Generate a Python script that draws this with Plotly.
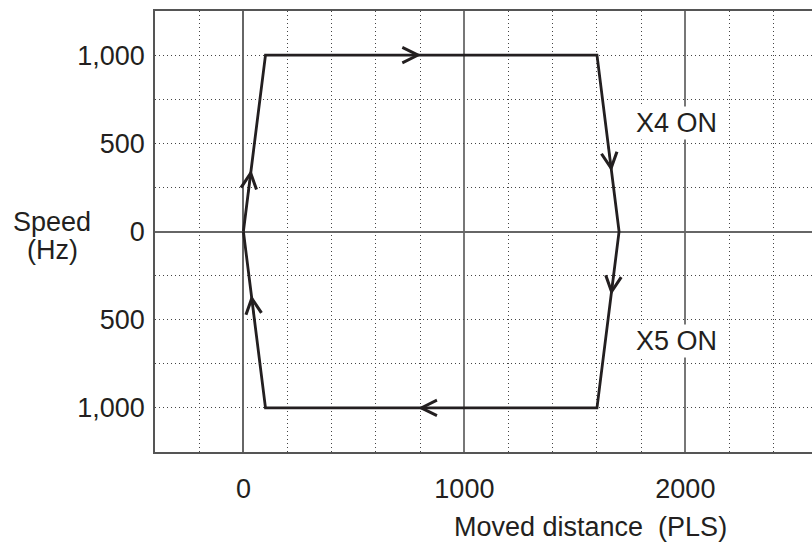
import plotly.graph_objects as go

# Path of the speed profile (moved distance in PLS, speed in Hz)
path_x = [0, 100, 1600, 1700, 1600, 100, 0]
path_y = [0, 1000, 1000, 0, -1000, -1000, 0]

# Arrow markers: (segment index, fraction along segment where the arrow tip sits)
arrow_segments = [0, 1, 2, 3, 4, 5]
arrow_fracs = [0.35, 0.47, 0.66, 0.36, 0.54, 0.64]

# Axis ticks
x_tickvals = [0, 1000, 2000]
x_ticktext = ["0", "1000", "2000"]
y_tickvals = [1000, 500, 0, -500, -1000]
y_ticktext = ["1,000", "500", "0", "500", "1,000"]

# Labels inside the plot
label_text = ["X4 ON", "X5 ON"]
label_x = [1960, 1960]
label_y = [615, -620]

FONT = "Liberation Sans"
INK = "#231f20"
FS = 27

fig = go.Figure()
fig.add_trace(go.Scatter(
    x=path_x, y=path_y, mode="lines",
    line=dict(color=INK, width=2.8),
    hoverinfo="skip", showlegend=False,
))

for seg, f in zip(arrow_segments, arrow_fracs):
    x0, y0 = path_x[seg], path_y[seg]
    x1, y1 = path_x[seg + 1], path_y[seg + 1]
    hx, hy = x0 + (x1 - x0) * f, y0 + (y1 - y0) * f
    tf = f - 0.15
    tx, ty = x0 + (x1 - x0) * tf, y0 + (y1 - y0) * tf
    fig.add_annotation(
        x=hx, y=hy, ax=tx, ay=ty, xref="x", yref="y", axref="x", ayref="y",
        text="", showarrow=True, arrowhead=5, arrowsize=1.8, arrowwidth=1.7,
        arrowcolor=INK, standoff=0, startstandoff=0,
    )

for t, lx, ly in zip(label_text, label_x, label_y):
    fig.add_annotation(
        x=lx, y=ly, xref="x", yref="y", text=t, showarrow=False,
        font=dict(family=FONT, size=FS, color=INK), bgcolor="white",
        borderpad=1,
    )

fig.add_annotation(
    x=52, y=222, xref="paper", yref="paper", text="Speed",
    showarrow=False, font=dict(family=FONT, size=FS, color=INK),
    xanchor="center", yanchor="middle",
)
fig.add_annotation(
    x=52, y=250, xref="paper", yref="paper", text="(Hz)",
    showarrow=False, font=dict(family=FONT, size=FS, color=INK),
    xanchor="center", yanchor="middle",
)
fig.add_annotation(
    x=590, y=527, xref="paper", yref="paper", text="Moved distance\u00a0 (PLS)",
    showarrow=False, font=dict(family=FONT, size=FS, color=INK),
    xanchor="center", yanchor="middle",
)

W, H = 812, 544
ML, MR, MT, MB = 155, 0, 11, 92

# convert pixel annotation positions to paper fractions
for a in fig.layout.annotations:
    if a.xref == "paper":
        a.x = (a.x - ML) / (W - ML - MR)
        a.y = 1 - (a.y - MT) / (H - MT - MB)

DOT = "1px,3px"
fig.update_layout(
    width=W, height=H,
    margin=dict(l=ML, r=MR, t=MT, b=MB),
    paper_bgcolor="white", plot_bgcolor="white",
    font=dict(family=FONT, size=FS, color=INK),
    xaxis=dict(
        range=[-400, 2573], tickvals=x_tickvals, ticktext=x_ticktext,
        tickfont=dict(family=FONT, size=FS, color=INK), automargin=False,
        showgrid=True, gridcolor="#777777", gridwidth=1.5,
        zeroline=True, zerolinecolor="#666666", zerolinewidth=1.5,
        showline=True, mirror=True, linecolor="#555555", linewidth=1.5,
        ticks="outside", ticklen=12, tickcolor="rgba(0,0,0,0)",
        minor=dict(dtick=200, tick0=0, showgrid=True, gridcolor="#444444",
                   gridwidth=1, griddash=DOT),
        fixedrange=True,
    ),
    yaxis=dict(
        range=[-1250, 1250], tickvals=y_tickvals, ticktext=y_ticktext,
        tickfont=dict(family=FONT, size=FS, color=INK), automargin=False,
        showgrid=True, gridcolor="#444444", gridwidth=1, griddash=DOT,
        zeroline=True, zerolinecolor="#666666", zerolinewidth=1.5,
        showline=True, mirror=False, linecolor="#555555", linewidth=1.5,
        ticks="outside", ticklen=3, tickcolor="rgba(0,0,0,0)",
        minor=dict(dtick=250, tick0=0, showgrid=True, gridcolor="#444444",
                   gridwidth=1, griddash=DOT),
        fixedrange=True,
    ),
)

fig.write_html("out.html", config={"displayModeBar": False},
               post_script="document.body.style.margin='0';")
